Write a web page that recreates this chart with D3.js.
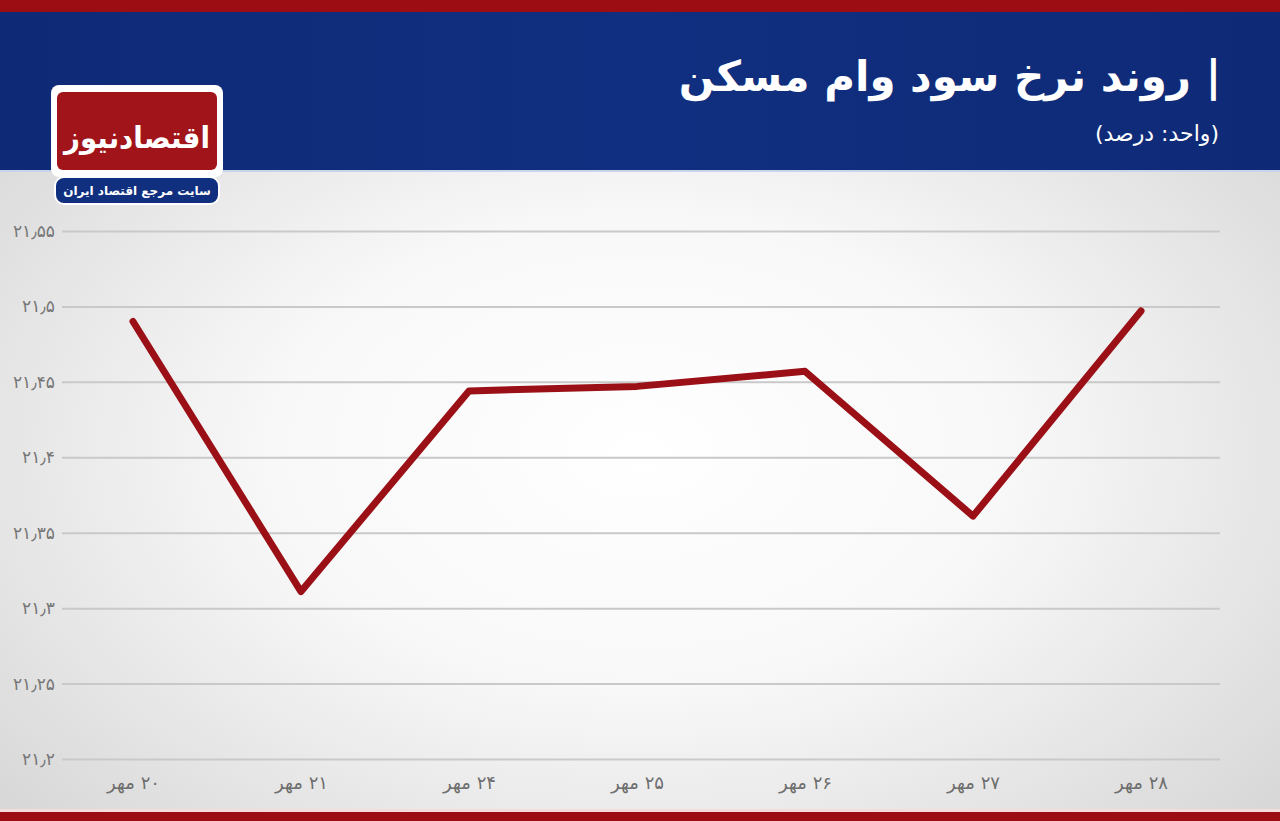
<!DOCTYPE html>
<html lang="fa">
<head>
<meta charset="utf-8">
<script src="https://cdn.jsdelivr.net/npm/d3@7"></script>
<style>
  html, body { margin: 0; padding: 0; background: #fff; }
  svg { display: block; }
  text { font-family: "DejaVu Sans", "Noto Sans", sans-serif; }
</style>
</head>
<body>
<svg id="chart" width="1280" height="821"></svg>
<script>
// ---- data ----
const categories = ["۲۰ مهر", "۲۱ مهر", "۲۴ مهر", "۲۵ مهر", "۲۶ مهر", "۲۷ مهر", "۲۸ مهر"];
const values = [21.490, 21.311, 21.444, 21.447, 21.457, 21.361, 21.497];
const yTicks = [21.2, 21.25, 21.3, 21.35, 21.4, 21.45, 21.5, 21.55];
const yTickLabels = ["۲۱٫۲", "۲۱٫۲۵", "۲۱٫۳", "۲۱٫۳۵", "۲۱٫۴", "۲۱٫۴۵", "۲۱٫۵", "۲۱٫۵۵"];
const title = "| روند نرخ سود وام مسکن";
const subtitle = "(واحد: درصد)";
const logoText = "اقتصادنیوز";
const logoTagline = "سایت مرجع اقتصاد ایران";

const W = 1280, H = 821;
const svg = d3.select("#chart");
const defs = svg.append("defs");

// background gradient
const rg = defs.append("radialGradient").attr("id", "bg")
  .attr("cx", "0.5").attr("cy", "0.55").attr("r", "0.72");
rg.append("stop").attr("offset", "0%").attr("stop-color", "#ffffff");
rg.append("stop").attr("offset", "40%").attr("stop-color", "#f8f8f8");
rg.append("stop").attr("offset", "100%").attr("stop-color", "#d2d2d2");
svg.append("rect").attr("x", 0).attr("y", 0).attr("width", W).attr("height", H).attr("fill", "url(#bg)");

// header
const hg = defs.append("linearGradient").attr("id", "hdr").attr("x1", 0).attr("x2", 1).attr("y1", 0).attr("y2", 0);
hg.append("stop").attr("offset", "0%").attr("stop-color", "#0e2a77");
hg.append("stop").attr("offset", "50%").attr("stop-color", "#112f80");
hg.append("stop").attr("offset", "100%").attr("stop-color", "#0e2a77");
svg.append("rect").attr("x", 0).attr("y", 0).attr("width", W).attr("height", 172).attr("fill", "url(#hdr)");
svg.append("rect").attr("x", 0).attr("y", 0).attr("width", W).attr("height", 12).attr("fill", "#9c0d13");
svg.append("rect").attr("x", 0).attr("y", 170).attr("width", W).attr("height", 2).attr("fill", "#c9d3ea");

svg.append("text").attr("x", 1221).attr("y", 91)
  .attr("direction", "rtl").attr("text-anchor", "start")
  .attr("fill", "#ffffff").attr("font-size", 42).attr("font-weight", "bold")
  .text(title);
svg.append("text").attr("x", 1219).attr("y", 141)
  .attr("direction", "rtl").attr("text-anchor", "start")
  .attr("fill", "#ffffff").attr("font-size", 22)
  .text(subtitle);

// logo
const logo = svg.append("g");
logo.append("rect").attr("x", 51).attr("y", 85).attr("width", 172).attr("height", 92).attr("rx", 8).attr("fill", "#ffffff");
logo.append("rect").attr("x", 57).attr("y", 92).attr("width", 160).attr("height", 78).attr("rx", 6).attr("fill", "#a0141a");
logo.append("text").attr("x", 137).attr("y", 148).attr("text-anchor", "middle").attr("direction", "rtl")
  .attr("fill", "#ffffff").attr("font-size", 30).attr("font-weight", "bold")
  .attr("textLength", 146).attr("lengthAdjust", "spacingAndGlyphs").text(logoText);
logo.append("rect").attr("x", 55).attr("y", 177).attr("width", 164).attr("height", 27).attr("rx", 9)
  .attr("fill", "#10307f").attr("stroke", "#ffffff").attr("stroke-width", 2);
logo.append("text").attr("x", 137).attr("y", 195).attr("text-anchor", "middle").attr("direction", "rtl")
  .attr("fill", "#ffffff").attr("font-size", 12).attr("font-weight", "bold").text(logoTagline);

// bottom stripe
svg.append("rect").attr("x", 0).attr("y", 809).attr("width", W).attr("height", 3).attr("fill", "#f4dcdc");
svg.append("rect").attr("x", 0).attr("y", 812).attr("width", W).attr("height", 9).attr("fill", "#9c0d13");

// scales
const x = d3.scalePoint().domain(categories).range([133, 1141]);
const y = d3.scaleLinear().domain([21.2, 21.55]).range([759, 231]);

// grid + y axis
const yAxis = d3.axisLeft(y).tickValues(yTicks)
  .tickSize(-(1220 - 62))
  .tickPadding(7)
  .tickFormat((d, i) => yTickLabels[i]);
const gy = svg.append("g").attr("transform", "translate(62,0)").call(yAxis);
gy.select(".domain").remove();
gy.selectAll(".tick line").attr("stroke", "#c9c9c9").attr("stroke-width", 2);
gy.selectAll(".tick text").attr("fill", "#767676").attr("font-size", 17)
  .attr("font-family", "\"DejaVu Sans\", sans-serif");

// x axis
const xAxis = d3.axisBottom(x).tickSize(0).tickPadding(0);
const gx = svg.append("g").attr("transform", "translate(0,770)").call(xAxis);
gx.select(".domain").remove();
gx.selectAll(".tick text").attr("fill", "#6e6e6e").attr("font-size", 18)
  .attr("direction", "rtl").attr("dy", "1.05em")
  .attr("font-family", "\"DejaVu Sans\", sans-serif");

// line
const line = d3.line().x((d, i) => x(categories[i])).y(d => y(d));
svg.append("path").datum(values)
  .attr("d", line)
  .attr("fill", "none")
  .attr("stroke", "#9a1016")
  .attr("stroke-width", 7)
  .attr("stroke-linejoin", "round")
  .attr("stroke-linecap", "round");
</script>
</body>
</html>
